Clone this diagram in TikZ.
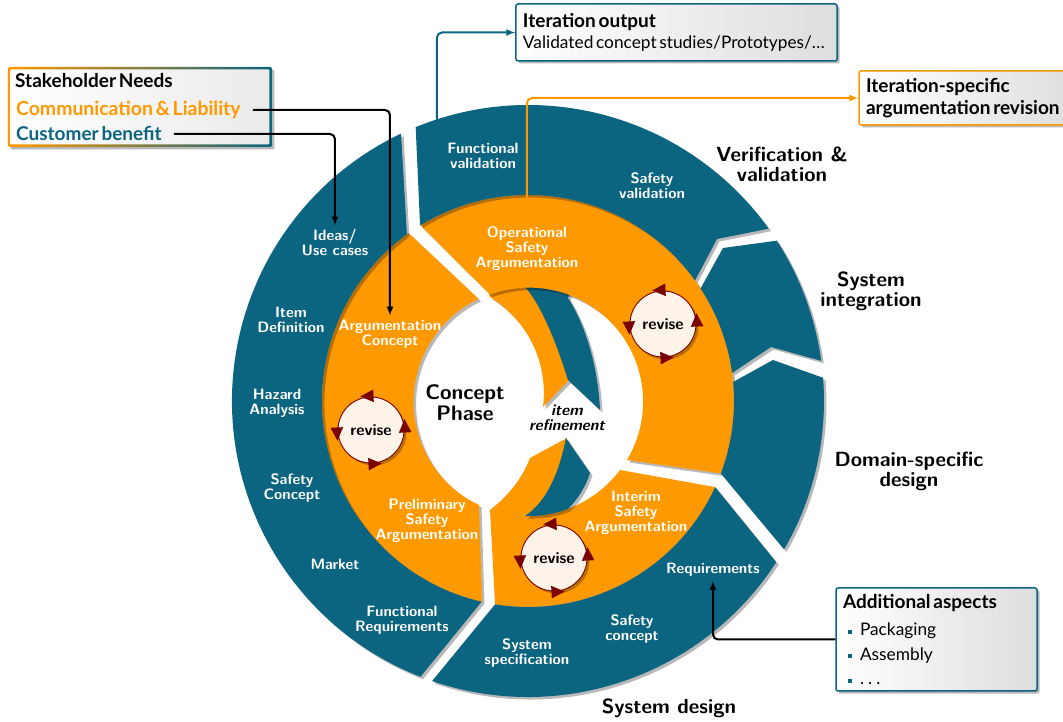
\documentclass[tikz,border=0pt]{standalone}
\usepackage{fontspec}
\newfontfamily\latofont[WordSpace=0.6]{Lato}
\usetikzlibrary{shadows}
\definecolor{ringteal}{HTML}{0B6480}
\definecolor{ringorange}{HTML}{FF9900}
\definecolor{revisered}{HTML}{780000}
\definecolor{reviselinen}{HTML}{FDF3E8}
\tikzset{
    softshadow/.style = {drop shadow = {shadow xshift = 2.5pt, shadow yshift = -2.5pt, fill = black, opacity = 0.28}},
    tealseg/.style = {fill = ringteal, softshadow},
    orangeseg/.style = {fill = ringorange, softshadow},
    seglabel/.style = {align = center, text = white, outer sep = 1pt, font = \sffamily\bfseries\fontsize{15}{15}\selectfont},
    phaselabel/.style = {align = center, font = \sffamily\bfseries\fontsize{20.5}{20}\selectfont},
    infobox/.style = {rectangle, rounded corners = 2pt, line width = 1.5pt, left color = white, right color = black!13, softshadow, align = flush left, inner sep = 0pt, font = \latofont\fontsize{17.3}{21.5}\selectfont},
    boxtitle/.style = {font = \latofont\bfseries\fontsize{19}{20}\selectfont},
    revisenode/.style = {circle, draw = revisered, line width = 0.9pt, fill = reviselinen, minimum size = 66pt, inner sep = 0pt, softshadow, font = \sffamily\bfseries\fontsize{16}{16}\selectfont},
    flow/.style = {-latex, line width = 2pt, rounded corners = 5pt},
}
\begin{document}
\begin{tikzpicture}[x=1pt, y=1pt]
    \useasboundingbox (-528, -321) rectangle (535, 401);
    % wedge and sliver under the upper ring piece
    \path[orangeseg] (-38, 104) -- (110:120) arc (110:90.5:120) -- (-1, 112)
        .. controls (12, 98) and (27, 66) .. (41, 21) -- (15, -6)
        .. controls (20, 35) and (3, 78) .. (-38, 104) -- cycle;
    \path[tealseg] (-2, 113) -- (90.5:120) arc (90.5:68.8:120) -- (40, 103) .. controls (57, 77) and (70, 35) .. (72, -9)
        -- (40, 21) .. controls (26, 66) and (11, 98) .. (-2, 113) -- cycle;
    % orange inner segments
    \path[orangeseg] (121.5:206) arc (121.5:-20.6:206) -- (99, -59) arc (-30.8:110.1:114) -- cycle;
    \path[orangeseg] (125.4:206) arc (125.4:257.1:206) -- (-49, -104) arc (244.8:115.4:114) -- cycle;
    \path[orangeseg] (260.8:206) arc (260.8:335.3:206) -- (92, -69) arc (323.1:268.5:115)
        .. controls (21, -100) and (33, -68) .. (39, -37) -- (2, -57)
        .. controls (-6, -78) and (-20, -95) .. (-38, -109) -- cycle;
    % blue outer segments
    \path[tealseg] (112.3:296) arc (112.3:35.6:296) -- (189, 162) -- (35.8:206) arc (35.8:121.6:206) -- cycle;
    \path[tealseg] (32.8:296) arc (32.8:7.8:296) -- (243, 54) -- (7.8:206) arc (7.8:33.1:206) -- (195, 153) -- cycle;
    \path[tealseg] (4.5:296) arc (4.5:-30.1:296) -- (-20.6:206) arc (-20.6:5.3:206) -- (245, 41) -- cycle;
    \path[tealseg] (251.1:296) arc (251.1:327:296) -- (335.3:206) arc (335.3:260.8:206) -- cycle;
    \path[tealseg] (115.4:296) arc (115.4:248.7:296) -- (257:206) arc (257:126:206) -- cycle;
    % lower blue sliver
    \path[tealseg] (-3, -115) .. controls (20, -100) and (32, -68) .. (38, -37) -- (62, -72)
        .. controls (58, -85) and (50, -98) .. (40, -108) arc (290.3:268.5:115) -- cycle;
    % revise circles
    \foreach \cx/\cy/\rname in {135/77/ra, -157/-29/rb, 26/-157/rc} {
        \node[revisenode] (\rname) at (\cx, \cy) {revise};
        \foreach \a in {3, 93, 183, 273}
            \fill[revisered, shift={(\cx, \cy)}, rotate=\a] (34, 9) -- (27.7, -4.3) -- (40.3, -4.3) -- cycle;
    }
    % labels on blue ring
    \node[seglabel] (funcval) at (-45, 245) {Functional\\validation};
    \node[seglabel] (safeval) at (124, 215) {Safety\\validation};
    \node[seglabel] (ideas) at (-193, 158) {Ideas/\\Use cases};
    \node[seglabel] (itemdef) at (-237, 81) {Item\\Definition};
    \node[seglabel] (hazard) at (-251, -2) {Hazard\\Analysis};
    \node[seglabel] (safeconcept) at (-236, -87) {Safety\\Concept};
    \node[seglabel] (market) at (-193, -163) {Market};
    \node[seglabel] (funcreq) at (-126, -219) {Functional\\Requirements};
    \node[seglabel] (sysspec) at (-1, -252) {System\\specification};
    \node[seglabel] (safesys) at (104, -228) {Safety\\concept};
    \node[seglabel] (requirements) at (185, -169) {Requirements};
    % labels on orange ring
    \node[seglabel] (opsafety) at (-1, 152) {Operational\\Safety\\Argumentation};
    \node[seglabel] (argconcept) at (-138, 67) {Argumentation\\Concept};
    \node[seglabel] (prelim) at (-101, -120) {Preliminary\\Safety\\Argumentation};
    \node[seglabel] (interim) at (108, -112) {Interim\\Safety\\Argumentation};
    % phase names
    \node[phaselabel] (verif) at (254, 237) {Verification \&\\validation};
    \node[phaselabel] (sysint) at (343, 110) {System\\integration};
    \node[phaselabel] (domain) at (381, -70) {Domain-specific\\design};
    \node[phaselabel] (sysdesign) at (141, -307) {System design};
    \node[phaselabel, font = \sffamily\bfseries\fontsize{21}{21}\selectfont] (phase) at (-63, -2) {Concept\\Phase};
    \node[align = center, font = \sffamily\bfseries\itshape\fontsize{15.5}{15}\selectfont] (refine) at (39, -17) {item\\refinement};
    % info boxes
    \node[infobox, draw = ringteal, minimum width = 321pt, minimum height = 57pt, text width = 307pt] (output) at (148.5, 368.5) {{\bfseries\fontsize{19}{20}\selectfont Iteration output}\\Validated concept studies/Prototypes/\dots};
    \node[infobox, draw = ringorange, minimum height = 54pt, inner xsep = 7pt, text width = 204pt] (iterspec) at (440, 303) {\bfseries\fontsize{19}{21}\selectfont Iteration-specific\\argumentation revision};
    \node[infobox, draw = ringteal, minimum width = 201pt, minimum height = 103pt, text width = 187pt] (aspects) at (408.5, -238.5) {{\bfseries\fontsize{19}{20}\selectfont Additional aspects}\\[6pt]
        \hspace*{5pt}\textcolor{ringteal}{\rule[2pt]{4pt}{4pt}}\hspace{8pt}Packaging\\[3pt]
        \hspace*{5pt}\textcolor{ringteal}{\rule[2pt]{4pt}{4pt}}\hspace{8pt}Assembly\\[3pt]
        \hspace*{5pt}\textcolor{ringteal}{\rule[2pt]{4pt}{4pt}}\hspace{8pt}. . .};
    \node[infobox, draw = none, left color = ringorange, right color = ringteal, minimum width = 264pt, minimum height = 80pt] (needs) at (-388, 294) {};
    \node[rectangle, rounded corners = 1pt, left color = white, right color = black!8, minimum width = 259pt, minimum height = 75pt] (needsin) at (needs) {};
    \node[boxtitle, anchor = west, inner sep = 0pt] (needstitle) at (-513, 320) {Stakeholder Needs};
    \node[boxtitle, anchor = west, inner sep = 0pt, text = ringorange, font = \latofont\bfseries\fontsize{19.4}{20}\selectfont] (comm) at (-512, 291) {Communication \& Liability};
    \node[boxtitle, anchor = west, inner sep = 0pt, text = ringteal] (benefit) at (-512, 267) {Customer benefit};
    % connectors
    \coordinate (outputfoot) at (-91, 281);
    \draw[flow, ringteal] (outputfoot) |- (output.west);
    \draw[flow, ringorange] (opsafety.north) |- (iterspec.west);
    \draw[flow] ([xshift=12pt]comm.east) -| (argconcept.north);
    \draw[flow] ([xshift=12pt]benefit.east) -| (ideas.north);
    \draw[flow] (aspects.west) -| (requirements.south);
\end{tikzpicture}
\end{document}
